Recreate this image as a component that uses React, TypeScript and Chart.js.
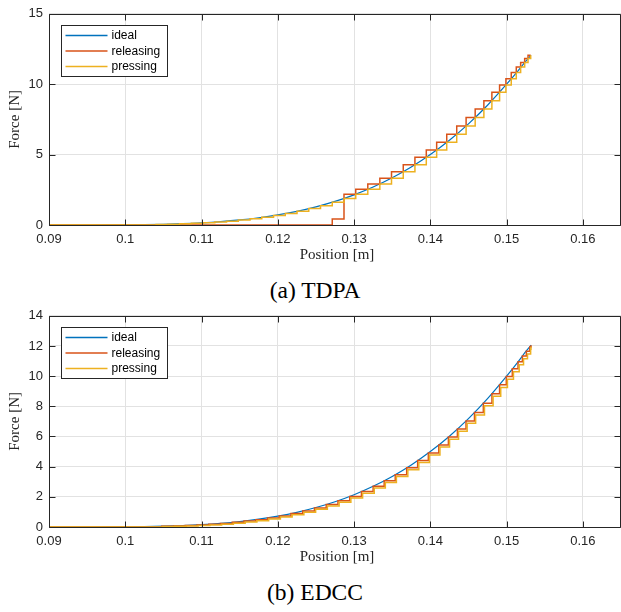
import React, { useEffect, useRef } from "react";
import { Chart, registerables } from "chart.js";

Chart.register(...registerables);

// ---------------- data ----------------
const seriesLabels = ["ideal", "releasing", "pressing"];
const seriesColors = ["#0072BD", "#D95319", "#EDB120"];
const captions = ["(a) TDPA", "(b) EDCC"];

const xTickValues = [0.09, 0.1, 0.11, 0.12, 0.13, 0.14, 0.15, 0.16];
const yTicksTDPA = [0, 5, 10, 15];
const yTicksEDCC = [0, 2, 4, 6, 8, 10, 12, 14];

const idealPos = [
  0.09, 0.0925, 0.095, 0.0975, 0.1, 0.1025, 0.105, 0.1075, 0.11, 0.1125, 0.115, 0.1175, 0.12, 0.1225,
  0.125, 0.1275, 0.13, 0.1325, 0.135, 0.1375, 0.14, 0.1425, 0.145, 0.1475, 0.15, 0.1515, 0.1525, 0.1532,
];
const idealForce = [
  0, 0, 0.001, 0.004, 0.011, 0.026, 0.052, 0.093, 0.154, 0.241, 0.359, 0.516, 0.718, 0.973,
  1.29, 1.676, 2.142, 2.697, 3.351, 4.116, 5.002, 6.02, 7.185, 8.507, 10.0, 10.95, 11.62, 12.05,
];

// TDPA
const tdpaPressingPos = [
  0.09, 0.10404, 0.10558, 0.10712, 0.10866, 0.1102, 0.11174, 0.11328, 0.11482, 0.11636, 0.1179, 0.11944,
  0.12098, 0.12252, 0.12406, 0.1256, 0.12714, 0.12868, 0.13022, 0.1318, 0.13338, 0.13491, 0.13645, 0.13798,
  0.13947, 0.14083, 0.14215, 0.14346, 0.14469, 0.14588, 0.14702, 0.14807, 0.14908, 0.14991, 0.15061, 0.15127,
  0.15184, 0.15237, 0.15281, 0.15316,
];
const tdpaPressingForce = [
  0, 0.04, 0.06, 0.085, 0.118, 0.16, 0.211, 0.274, 0.349, 0.439, 0.545, 0.669,
  0.811, 0.976, 1.163, 1.376, 1.616, 1.886, 2.187, 2.532, 2.916, 3.326, 3.781, 4.276,
  4.803, 5.325, 5.87, 6.45, 7.032, 7.631, 8.24, 8.832, 9.43, 9.943, 10.392, 10.829,
  11.217, 11.55, 11.82, 12.05,
];
const tdpaReleasingPos = [
  0.09, 0.12714, 0.12868, 0.13022, 0.1318, 0.13338, 0.13491, 0.13645, 0.13798,
  0.13947, 0.14083, 0.14215, 0.14346, 0.14469, 0.14588, 0.14702, 0.14807, 0.14908, 0.14991, 0.15061, 0.15127,
  0.15184, 0.15237, 0.15281, 0.15316,
];
const tdpaReleasingForce = [
  0, 0, 0.42, 2.187, 2.532, 2.916, 3.326, 3.781, 4.276,
  4.803, 5.325, 5.87, 6.45, 7.032, 7.631, 8.24, 8.832, 9.43, 9.943, 10.392, 10.829,
  11.217, 11.55, 11.82, 12.05,
];

// EDCC
const edccReleasingPos = [
  0.09, 0.10479, 0.10633, 0.10787, 0.10941, 0.11095, 0.11249, 0.11403, 0.11557, 0.11711, 0.11865, 0.12019,
  0.12173, 0.12327, 0.12481, 0.12635, 0.12789, 0.12943, 0.13097, 0.1325, 0.13395, 0.1354, 0.1369, 0.13834,
  0.13974, 0.14111, 0.14237, 0.14355, 0.14468, 0.14579, 0.14695, 0.14808, 0.14908, 0.14996, 0.15075, 0.1515,
  0.15207, 0.15259, 0.15303, 0.1532,
];
const edccReleasingForce = [
  0, 0.049, 0.071, 0.1, 0.137, 0.183, 0.24, 0.309, 0.391, 0.488, 0.603, 0.735,
  0.888, 1.064, 1.263, 1.489, 1.743, 2.028, 2.346, 2.697, 3.064, 3.466, 3.922, 4.4,
  4.904, 5.437, 5.964, 6.491, 7.027, 7.585, 8.202, 8.838, 9.43, 9.975, 10.483, 10.95,
  11.33, 11.65, 11.93, 12.05,
];
const edccPressingPos = [
  0.09, 0.10494, 0.10648, 0.10802, 0.10956, 0.1111, 0.11264, 0.11418, 0.11572, 0.11726, 0.1188, 0.12034,
  0.12188, 0.12342, 0.12496, 0.1265, 0.12804, 0.12958, 0.13112, 0.13265, 0.1341, 0.13555, 0.13705, 0.13849,
  0.13989, 0.14126, 0.14252, 0.1437, 0.14483, 0.14594, 0.1471, 0.14823, 0.14923, 0.15011, 0.1509, 0.15165,
  0.15222, 0.15274, 0.15315, 0.1532,
];
const edccPressingForce = [
  0, 0.03, 0.05, 0.07, 0.1, 0.14, 0.19, 0.25, 0.33, 0.42, 0.53, 0.66,
  0.81, 0.98, 1.17, 1.39, 1.64, 1.92, 2.24, 2.58, 2.95, 3.35, 3.8, 4.27,
  4.77, 5.3, 5.82, 6.34, 6.87, 7.42, 8.03, 8.66, 9.25, 9.79, 10.29, 10.76,
  11.15, 11.47, 11.78, 11.95,
];

// ---------------- layout / style ----------------
const W = 621;
const CH = 262;
const SANS = "'Liberation Sans', Arial, Helvetica, sans-serif";
const SERIF = "'Liberation Serif', 'Times New Roman', serif";
const AXIS = "#262626";
const GRID = "#e2e2e2";

const toXY = (xs: number[], ys: number[]) => xs.map((x, i) => ({ x, y: ys[i] }));
const fmt = (v: number) => String(parseFloat(Number(v).toFixed(4)));

const matlabPlugin = {
  id: "matlabAxes",
  afterDatasetsDraw(chart: any) {
    const { ctx, chartArea: a, scales } = chart;
    const L = Math.round(a.left) + 0.5;
    const R = Math.round(a.right) - 0.5;
    const T = Math.round(a.top) + 0.5;
    const B = Math.round(a.bottom) + 0.5;
    ctx.save();
    ctx.strokeStyle = AXIS;
    ctx.lineWidth = 1;
    ctx.beginPath();
    ctx.moveTo(L, T);
    ctx.lineTo(R, T);
    ctx.lineTo(R, B);
    ctx.lineTo(L, B);
    ctx.closePath();
    ctx.stroke();
    const tl = 6;
    ctx.beginPath();
    for (const t of scales.x.ticks) {
      const px = Math.round(scales.x.getPixelForValue(t.value)) + 0.5;
      ctx.moveTo(px, B);
      ctx.lineTo(px, B - tl);
      ctx.moveTo(px, T);
      ctx.lineTo(px, T + tl);
    }
    for (const t of scales.y.ticks) {
      const py = Math.round(scales.y.getPixelForValue(t.value)) + 0.5;
      ctx.moveTo(L, py);
      ctx.lineTo(L + tl, py);
      ctx.moveTo(R, py);
      ctx.lineTo(R - tl, py);
    }
    ctx.stroke();

    // axis titles
    ctx.fillStyle = AXIS;
    ctx.font = `15px ${SERIF}`;
    ctx.textAlign = "center";
    ctx.textBaseline = "middle";
    ctx.fillText("Position [m]", (a.left + a.right) / 2 + 2, a.bottom + 30.5);
    ctx.save();
    ctx.translate(15, (a.top + a.bottom) / 2);
    ctx.rotate(-Math.PI / 2);
    ctx.fillText("Force [N]", 0, 0);
    ctx.restore();

    // legend
    const bx = Math.round(a.left) + 12.5;
    const by = Math.round(a.top) + 11.5;
    const bw = 106;
    const bh = 51;
    ctx.fillStyle = "#ffffff";
    ctx.fillRect(bx, by, bw, bh);
    ctx.strokeStyle = AXIS;
    ctx.strokeRect(bx, by, bw, bh);
    ctx.font = `12px ${SANS}`;
    ctx.textAlign = "left";
    chart.data.datasets.forEach((ds: any, i: number) => {
      const y = by + 10 + i * 15.5;
      ctx.strokeStyle = ds.borderColor;
      ctx.lineWidth = 1.5;
      ctx.beginPath();
      ctx.moveTo(bx + 4, y);
      ctx.lineTo(bx + 46, y);
      ctx.stroke();
      ctx.fillStyle = "#000";
      ctx.fillText(ds.label, bx + 50, y + 0.5);
    });
    ctx.restore();
  },
};

type PanelDef = {
  releasing: { x: number; y: number }[];
  pressing: { x: number; y: number }[];
  releasingStep: "before" | "after";
  yMax: number;
  yTicks: number[];
};

function makeConfig(p: PanelDef): any {
  return {
    type: "line",
    data: {
      datasets: [
        {
          label: seriesLabels[0],
          data: toXY(idealPos, idealForce),
          borderColor: seriesColors[0],
          borderWidth: 1.2,
          pointRadius: 0,
          cubicInterpolationMode: "monotone",
          order: 3,
        },
        {
          label: seriesLabels[1],
          data: p.releasing,
          borderColor: seriesColors[1],
          borderWidth: 1.5,
          pointRadius: 0,
          stepped: p.releasingStep,
          order: 2,
        },
        {
          label: seriesLabels[2],
          data: p.pressing,
          borderColor: seriesColors[2],
          borderWidth: 1.5,
          pointRadius: 0,
          stepped: "before",
          order: 1,
        },
      ],
    },
    options: {
      animation: false,
      responsive: false,
      devicePixelRatio: 1,
      events: [],
      layout: { padding: { top: 11, left: 0, right: 0, bottom: 0 } },
      plugins: { legend: { display: false }, tooltip: { enabled: false }, title: { display: false } },
      scales: {
        x: {
          type: "linear",
          min: 0.09,
          max: 0.165,
          afterBuildTicks: (s: any) => {
            s.ticks = xTickValues.map((v) => ({ value: v }));
          },
          afterFit: (s: any) => {
            s.height = CH - 225;
          },
          grid: { color: GRID, lineWidth: 1, drawTicks: false },
          border: { display: false },
          ticks: {
            padding: 7,
            color: AXIS,
            font: { size: 13, family: SANS },
            maxRotation: 0,
            autoSkip: false,
            callback: (v: any) => fmt(v),
          },
        },
        y: {
          type: "linear",
          min: 0,
          max: p.yMax,
          afterBuildTicks: (s: any) => {
            s.ticks = p.yTicks.map((v) => ({ value: v }));
          },
          afterFit: (s: any) => {
            s.width = 49;
          },
          grid: { color: GRID, lineWidth: 1, drawTicks: false },
          border: { display: false },
          ticks: {
            padding: 6,
            color: AXIS,
            font: { size: 13, family: SANS },
            autoSkip: false,
            callback: (v: any) => fmt(v),
          },
        },
      },
    },
    plugins: [matlabPlugin],
  };
}

const panels: PanelDef[] = [
  {
    releasing: toXY(tdpaReleasingPos, tdpaReleasingForce),
    pressing: toXY(tdpaPressingPos, tdpaPressingForce),
    releasingStep: "after",
    yMax: 15,
    yTicks: yTicksTDPA,
  },
  {
    releasing: toXY(edccReleasingPos, edccReleasingForce),
    pressing: toXY(edccPressingPos, edccPressingForce),
    releasingStep: "before",
    yMax: 14,
    yTicks: yTicksEDCC,
  },
];

function Panel({ def, top }: { def: PanelDef; top: number }) {
  const ref = useRef<HTMLCanvasElement>(null);
  useEffect(() => {
    const chart = new Chart(ref.current as HTMLCanvasElement, makeConfig(def));
    return () => chart.destroy();
  }, [def]);
  return (
    <canvas
      ref={ref}
      width={W}
      height={CH}
      style={{ position: "absolute", left: 0, top, width: W, height: CH }}
    />
  );
}

const captionStyle = (top: number): React.CSSProperties => ({
  position: "absolute",
  left: 0,
  width: 630,
  top,
  textAlign: "center",
  fontFamily: SERIF,
  fontSize: 23.5,
  lineHeight: "28px",
  color: "#000",
  whiteSpace: "nowrap",
});

export default function App() {
  return (
    <div style={{ position: "absolute", left: 0, top: 0, width: W, height: 612, background: "#fff", overflow: "hidden" }}>
      <Panel def={panels[0]} top={0} />
      <div style={captionStyle(276)}>{captions[0]}</div>
      <Panel def={panels[1]} top={302} />
      <div style={captionStyle(578)}>{captions[1]}</div>
    </div>
  );
}
